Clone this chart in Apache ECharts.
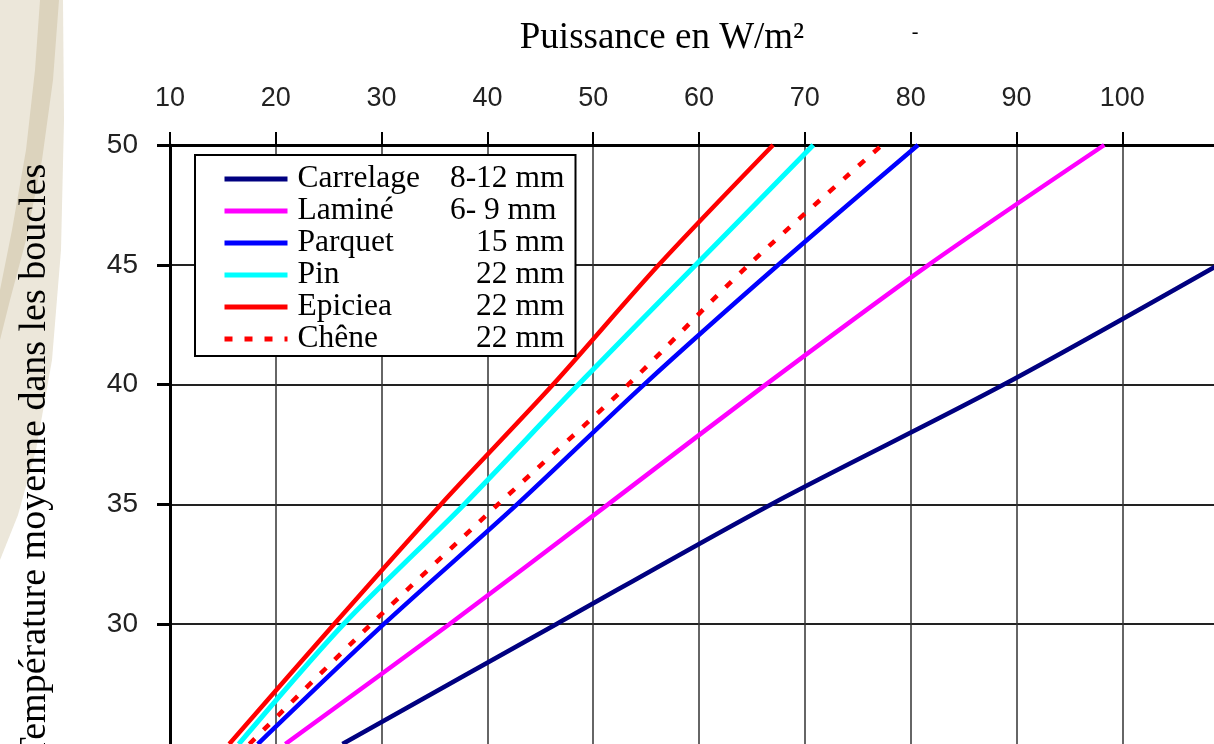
<!DOCTYPE html>
<html>
<head>
<meta charset="utf-8">
<script src="https://cdn.jsdelivr.net/npm/echarts@6/dist/echarts.min.js"></script>
<style>
html,body{margin:0;padding:0;background:#fff;}
#c{width:1214px;height:744px;}
</style>
</head>
<body>
<div id="c"></div>
<script>
// ---- data ----
var temps = [25, 30, 35, 40, 45, 50];
var seriesNames = ['Carrelage', 'Laminé', 'Parquet', 'Pin', 'Epiciea', 'Chêne'];
var thickness = ['8-12 mm', '6- 9 mm ', '15 mm', '22 mm', '22 mm', '22 mm'];
var carrelage = [26.3, 46.5, 66.8, 88.8, 109.1];
var lamine = [20.9, 36.4, 51.4, 66.3, 81.7, 98.3];
var parquet = [18.3, 30.2, 42.8, 54.8, 67.5, 80.7];
var pin = [16.5, 26.4, 37.8, 48.6, 59.7, 70.8];
var epiciea = [15.6, 25.5, 35.6, 46.2, 56.2, 67.0];
var chene = [17.5, 29.0, 41.0, 53.3, 64.7, 77.3];
var xTicks = [10, 20, 30, 40, 50, 60, 70, 80, 90, 100];
var yTicks = [30, 35, 40, 45, 50];
var titleText = 'Puissance en W/m²';
var yNameText = 'Température moyenne dans les boucles';

var powers = [carrelage, lamine, parquet, pin, epiciea, chene];
var colors = ['#000080', '#ff00ff', '#0000ff', '#00ffff', '#ff0000', '#ff0000'];

function pairs(xs) {
  return xs.map(function (x, i) { return [x, temps[i]]; });
}

var series = seriesNames.map(function (n, i) {
  return {
    name: n,
    type: 'line',
    data: pairs(powers[i]),
    smooth: 0.3,
    symbol: 'none',
    clip: true,
    z: 3,
    lineStyle: {
      color: colors[i],
      width: i === 3 ? 5 : 4.5,
      type: i === 5 ? [8, 12] : 'solid'
    },
    itemStyle: { color: colors[i] }
  };
});

var serif = 'Liberation Serif';
var sans = 'Liberation Sans';

var chart = echarts.init(document.getElementById('c'));
chart.setOption({
  animation: false,
  backgroundColor: '#ffffff',
  grid: { left: 170, top: 145, width: 1044, height: 600, containLabel: false },
  xAxis: {
    type: 'value',
    position: 'top',
    min: 10,
    max: 108.67,
    interval: 5,
    axisLine: { show: true, onZero: false, lineStyle: { color: '#000', width: 3 } },
    axisTick: { show: true, inside: false, length: 13, customValues: xTicks, lineStyle: { color: '#000', width: 2 } },
    axisLabel: { show: true, customValues: xTicks, margin: 33, fontSize: 27, fontFamily: sans, color: '#222' },
    splitLine: { show: true, lineStyle: { color: '#333', width: 1.5 } }
  },
  yAxis: {
    type: 'value',
    min: 25,
    max: 50,
    interval: 5,
    axisLine: { show: true, onZero: false, lineStyle: { color: '#000', width: 3 } },
    axisTick: { show: true, inside: false, length: 13, customValues: yTicks, lineStyle: { color: '#000', width: 3 } },
    axisLabel: { show: true, customValues: yTicks, margin: 32, fontSize: 28, fontFamily: sans, color: '#222' },
    splitLine: { show: true, lineStyle: { color: '#222', width: 2 } }
  },
  legend: {
    show: true,
    orient: 'vertical',
    left: 195,
    top: 155,
    padding: [8, 11, 1, 27],
    itemGap: 0,
    itemWidth: 63,
    itemHeight: 14,
    backgroundColor: '#fff',
    borderColor: '#000',
    borderWidth: 2,
    borderRadius: 0,
    data: seriesNames,
    selectedMode: false,
    lineStyle: { width: 5 },
    itemStyle: { color: 'rgba(0,0,0,0)', borderWidth: 0, opacity: 0 },
    formatter: function (name) {
      var i = seriesNames.indexOf(name);
      return '{n|' + name + '}{v|' + thickness[i] + '}';
    },
    textStyle: {
      fontFamily: serif,
      fontSize: 31.5,
      color: '#000',
      lineHeight: 32,
      rich: {
        n: { width: 145, padding: [0, 0, 0, 5], fontFamily: serif, fontSize: 31.5, lineHeight: 32, color: '#000' },
        v: { width: 122, align: 'right', fontFamily: serif, fontSize: 31.5, lineHeight: 32, color: '#000' }
      }
    }
  },
  graphic: [
    {
      type: 'polygon', z: -20, silent: true,
      shape: { points: [[0, 0], [63, 0], [64, 120], [61, 250], [52, 360], [36, 450], [18, 515], [0, 560]] },
      style: { fill: '#ece7da' }
    },
    {
      type: 'polygon', z: -19, silent: true,
      shape: { points: [[40, 0], [59, 0], [53, 80], [42, 160], [26, 240], [10, 300], [0, 340], [0, 290], [12, 230], [26, 150], [35, 70]] },
      style: { fill: '#dcd3bd' }
    },
    {
      type: 'text', z: 10, silent: true,
      x: 662, y: 38,
      style: { text: titleText, fontFamily: serif, fontSize: 37, fill: '#000', textAlign: 'center', textVerticalAlign: 'middle' }
    },
    {
      type: 'text', z: 10, silent: true,
      x: 915, y: 33,
      style: { text: '-', fontFamily: serif, fontSize: 20, fill: '#000', textAlign: 'center', textVerticalAlign: 'middle' }
    },
    {
      type: 'text', z: 10, silent: true,
      x: 35, y: 462, rotation: Math.PI / 2,
      style: { text: yNameText, fontFamily: serif, fontSize: 38, fill: '#000', textAlign: 'center', textVerticalAlign: 'middle' }
    }
  ],
  series: series
});
</script>
</body>
</html>
